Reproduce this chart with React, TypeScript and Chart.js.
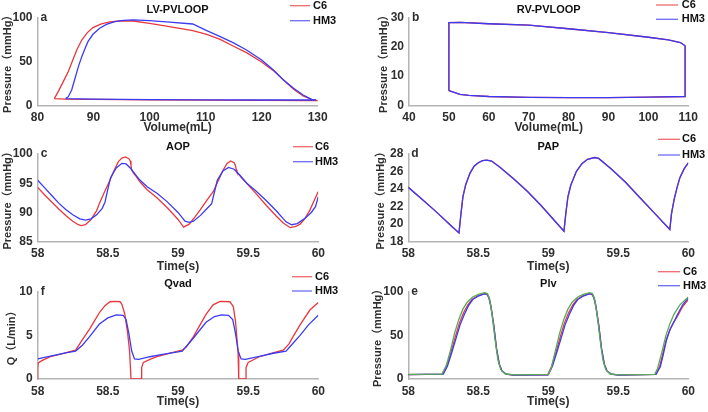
import React, { useEffect, useRef } from "react";
import { Chart, registerables } from "chart.js";
Chart.register(...registerables);

// ---------- data ----------
const seriesNames = ["C6", "HM3"];

// LV pressure-volume loop
const lvC6Volume = [83.0, 83.7, 84.6, 85.5, 86.3, 87.0, 87.9, 88.9, 89.9, 91.4, 92.9, 94.7, 97.1, 100, 103, 107.7, 110.2, 112.6, 114.9, 117.3, 120, 122.1, 123.9, 125.7, 127.4, 128.9, 130, 129.5, 120, 110, 100, 90, 85, 83.0];
const lvC6Pressure = [7.6, 15.5, 26.9, 38.3, 51.5, 62.9, 74.2, 82.6, 88.3, 92.4, 94.7, 95.8, 95.8, 93.2, 90.0, 84.8, 80.7, 75.0, 67.4, 59.8, 49.2, 39.4, 28.8, 18.2, 10.6, 6.8, 5.3, 5.3, 5.6, 5.9, 6.2, 6.7, 7.1, 7.6];
const lvHm3Volume = [85, 85.5, 86.1, 86.7, 87.3, 87.9, 88.5, 89, 89.9, 91.1, 92.3, 93.8, 95.3, 97.1, 100, 103, 107.7, 110.2, 112.6, 114.9, 117.3, 120, 122.1, 123.9, 125.7, 127.4, 128.9, 129.7, 120, 110, 100, 90, 85];
const lvHm3Pressure = [7.6, 9.8, 17.4, 30.7, 44, 55.3, 64.8, 72.3, 80.7, 87.5, 92, 95, 96.6, 97, 96.2, 94.7, 92.4, 84.8, 78, 71.2, 62.9, 51.5, 40, 28.8, 19.3, 11.7, 6.8, 6.0, 6.0, 6.2, 6.5, 7.0, 7.6];

// RV pressure-volume loop
const rvVolume = [50, 50, 52.8, 60, 70, 80, 90, 100, 105, 108, 109.2, 109.2, 100, 90, 80, 70, 60, 55, 52.8, 50];
const rvPressure = [5.0, 28.2, 28.3, 27.8, 27.3, 26.1, 24.8, 23.2, 22.3, 21.4, 20.3, 3.0, 2.8, 2.6, 2.6, 2.7, 3.0, 3.4, 3.75, 5.0];

// AOP
const aopC6Time = [58, 58.05, 58.1, 58.15, 58.2, 58.25, 58.29, 58.31, 58.34, 58.38, 58.42, 58.444, 58.48, 58.515, 58.545, 58.575, 58.6, 58.625, 58.65, 58.66, 58.665, 58.67, 58.68, 58.7, 58.73, 58.78, 58.85, 58.92, 58.97, 59.0, 59.04, 59.08, 59.12, 59.157, 59.2, 59.252, 59.29, 59.323, 59.35, 59.375, 59.4, 59.41, 59.415, 59.42, 59.45, 59.49, 59.55, 59.63, 59.7, 59.75, 59.8, 59.84, 59.87, 59.9, 59.94, 59.97, 60];
const aopC6Value = [94.3, 93.0, 91.8, 90.6, 89.5, 88.5, 87.9, 87.75, 87.9, 88.8, 90.3, 91.8, 93.7, 95.5, 97.2, 98.7, 99.3, 99.5, 99.2, 98.8, 98.0, 97.3, 96.8, 96.2, 95.2, 93.9, 92.5, 90.9, 89.6, 88.8, 87.5, 88.0, 89.2, 90.4, 91.9, 93.6, 95.6, 97.3, 98.4, 98.8, 98.5, 98.0, 97.3, 96.9, 96.0, 95.0, 93.4, 91.2, 89.4, 88.2, 87.4, 87.6, 88.0, 88.8, 90.4, 92.0, 93.6];
const aopHm3Time = [58, 58.05, 58.1, 58.15, 58.2, 58.25, 58.3, 58.34, 58.38, 58.42, 58.46, 58.48, 58.5, 58.52, 58.56, 58.6, 58.63, 58.66, 58.7, 58.73, 58.78, 58.85, 58.92, 59.0, 59.05, 59.08, 59.11, 59.16, 59.2, 59.24, 59.26, 59.28, 59.32, 59.36, 59.4, 59.44, 59.49, 59.55, 59.63, 59.7, 59.77, 59.81, 59.85, 59.9, 59.95, 59.98, 60];
const aopHm3Value = [95.5, 94.2, 92.9, 91.6, 90.5, 89.6, 88.9, 88.7, 88.9, 89.6, 90.7, 91.8, 94.0, 96.0, 97.6, 98.4, 98.3, 97.6, 96.4, 95.5, 94.4, 93.3, 91.9, 90.0, 88.5, 88.3, 88.5, 89.5, 90.5, 91.5, 93.5, 95.5, 97.1, 97.7, 97.4, 96.4, 95.0, 93.8, 92.0, 90.3, 88.4, 87.9, 88.1, 88.9, 90.0, 91.0, 92.7];

// PAP (both devices overlap)
const papTime = [58, 58.1, 58.2, 58.3, 58.362, 58.375, 58.39, 58.41, 58.44, 58.47, 58.5, 58.53, 58.56, 58.595, 58.65, 58.75, 58.85, 58.95, 59.05, 59.112, 59.125, 59.14, 59.16, 59.2, 59.24, 59.28, 59.33, 59.36, 59.45, 59.55, 59.65, 59.75, 59.868, 59.88, 59.9, 59.92, 59.94, 59.97, 60];
const papValue = [24.2, 22.8, 21.4, 19.9, 19.0, 21.0, 23.1, 24.5, 25.8, 26.6, 27.0, 27.25, 27.3, 27.2, 26.55, 25.2, 23.75, 22.1, 20.3, 19.2, 21.2, 23.1, 24.4, 26.0, 26.9, 27.4, 27.6, 27.5, 26.3, 24.8, 23.1, 21.4, 19.4, 21.2, 22.9, 24.2, 25.3, 26.3, 27.0];

// Qvad
const qC6Time = [58, 58.0, 58.004, 58.03, 58.09, 58.15, 58.21, 58.27, 58.325, 58.373, 58.41, 58.444, 58.48, 58.515, 58.55, 58.587, 58.6, 58.62, 58.64, 58.655, 58.665, 58.741, 58.741, 58.753, 58.8, 58.85, 58.93, 59.0, 59.03, 59.06, 59.11, 59.157, 59.2, 59.25, 59.3, 59.37, 59.394, 59.41, 59.428, 59.433, 59.485, 59.485, 59.5, 59.58, 59.67, 59.75, 59.79, 59.82, 59.87, 59.94, 60];
const qC6Value = [0, 1.3, 1.85, 2.1, 2.55, 2.8, 3.05, 3.3, 4.65, 5.8, 6.8, 7.7, 8.4, 8.85, 8.9, 8.85, 8.55, 7.5, 5.4, 3.2, 0, 0, 1.3, 1.9, 2.25, 2.55, 2.9, 3.2, 3.3, 3.7, 4.85, 6.2, 7.4, 8.5, 8.9, 8.85, 8.3, 6.6, 3.1, 0, 0, 1.3, 1.9, 2.55, 2.95, 3.3, 4.0, 4.85, 6.2, 7.9, 8.75];
const qHm3Time = [58, 58.1, 58.2, 58.27, 58.32, 58.37, 58.44, 58.5, 58.56, 58.61, 58.63, 58.65, 58.67, 58.69, 58.72, 58.8, 58.9, 59.0, 59.03, 59.1, 59.2, 59.26, 59.31, 59.36, 59.39, 59.41, 59.43, 59.45, 59.48, 59.58, 59.68, 59.77, 59.82, 59.87, 59.93, 60];
const qHm3Value = [2.3, 2.65, 3.0, 3.2, 3.9, 4.85, 6.3, 7.0, 7.35, 7.3, 6.8, 5.2, 3.2, 2.3, 2.25, 2.55, 2.85, 3.1, 3.2, 4.5, 6.5, 7.15, 7.35, 7.3, 6.8, 5.2, 3.1, 2.3, 2.25, 2.6, 2.95, 3.2, 4.1, 5.0, 6.2, 7.3];

// Plv
const plvC6Time = [58, 58.245, 58.275, 58.305, 58.335, 58.365, 58.395, 58.425, 58.455, 58.5, 58.545, 58.565, 58.578, 58.59, 58.61, 58.63, 58.65, 58.67, 58.7, 58.75, 58.995, 59.025, 59.055, 59.085, 59.115, 59.145, 59.175, 59.205, 59.25, 59.295, 59.315, 59.328, 59.34, 59.36, 59.38, 59.4, 59.42, 59.45, 59.5, 59.765, 59.795, 59.815, 59.84, 59.865, 59.895, 59.92, 59.96, 60];
const plvC6Value = [5.0, 5.5, 15, 31, 48, 64, 76, 85, 91, 95.5, 97.5, 97, 93, 84, 62, 35, 17, 9, 5.5, 4.5, 4.8, 15, 31, 48, 64, 76, 85, 91, 95.5, 97.5, 97, 93, 84, 62, 35, 17, 9, 5.5, 4.5, 5.2, 14, 27, 44, 55, 65, 71, 83, 91];
const plvHm3Time = [58, 58.25, 58.28, 58.31, 58.34, 58.37, 58.4, 58.43, 58.46, 58.5, 58.54, 58.56, 58.575, 58.59, 58.61, 58.63, 58.65, 58.67, 58.7, 58.75, 59.0, 59.03, 59.06, 59.09, 59.12, 59.15, 59.18, 59.21, 59.25, 59.29, 59.31, 59.325, 59.34, 59.36, 59.38, 59.4, 59.42, 59.45, 59.5, 59.77, 59.8, 59.82, 59.845, 59.87, 59.9, 59.92, 59.96, 60];
const plvHm3Value = [5.0, 5.5, 15, 30, 46, 62, 74, 84, 91, 95, 97.5, 97.5, 93, 83, 62, 35, 17, 9, 5.5, 4.5, 4.8, 15, 30, 46, 62, 74, 84, 91, 95, 97.5, 97.5, 93, 83, 62, 35, 17, 9, 5.5, 4.5, 5.2, 14, 27, 45, 57, 66, 73, 85, 93];
const plvRefTime = [58, 58.24, 58.27, 58.3, 58.33, 58.36, 58.39, 58.42, 58.46, 58.5, 58.545, 58.565, 58.58, 58.6, 58.62, 58.64, 58.66, 58.69, 58.75, 59.0, 59.02, 59.05, 59.08, 59.11, 59.14, 59.17, 59.21, 59.25, 59.295, 59.315, 59.33, 59.35, 59.37, 59.39, 59.41, 59.44, 59.5, 59.76, 59.78, 59.81, 59.84, 59.87, 59.9, 59.94, 60];
const plvRefValue = [5.3, 5.6, 15, 32, 52, 68, 80, 88, 94, 97, 99, 98, 92, 72, 45, 22, 11, 6, 4.8, 5.3, 12, 32, 52, 68, 80, 88, 94, 97, 99, 98, 92, 72, 45, 22, 11, 6, 4.8, 5.3, 12, 30, 50, 64, 75, 85, 94];

// ---------- styles ----------
const RED = "#e8383d";
const BLUE = "#3b3bf2";
const GREEN = "#5aaa5a";
const FONT = "'Liberation Sans', Arial, 'Noto Sans CJK SC', sans-serif";
const TICK_SIZE = 12;
const AXIS_TITLE_SIZE = 12;
const TITLE_SIZE = 11;
const LEGEND_SIZE = 11;
const AXIS_COLOR = "#b4b4b4";
const TEXT_COLOR = "#2e2e2e";

type Series = { label?: string; x: number[]; y: number[]; color: string };
type PanelCfg = {
  box: { x: number; y: number; w: number; h: number };
  area: { l: number; t: number; r: number; b: number };
  yTitleX: number;
  xTitleY: number;
  titleY: number;
  title: string;
  letter: string;
  xTitle: string;
  yTitle: string;
  xRange: [number, number, number];
  yRange: [number, number, number];
  legend: { x1: number; x2: number; y: number[]; tx: number };
  series: Series[];
};

const P_LABEL = "Pressure\uFF08mmHg\uFF09";

const panels: PanelCfg[] = [
  {
    box: { x: 0, y: 0, w: 354, h: 137 },
    area: { l: 37.5, t: 17.3, r: 317.7, b: 105.3 },
    yTitleX: 8.3, xTitleY: 128, titleY: 10,
    title: "LV-PVLOOP", letter: "a", xTitle: "Volume(mL)", yTitle: P_LABEL,
    xRange: [80, 130, 10], yRange: [0, 100, 50],
    legend: { x1: 290, x2: 310, y: [5.7, 20.7], tx: 313 },
    series: [
      { label: seriesNames[0], x: lvC6Volume, y: lvC6Pressure, color: RED },
      { label: seriesNames[1], x: lvHm3Volume, y: lvHm3Pressure, color: BLUE },
    ],
  },
  {
    box: { x: 354, y: 0, w: 354, h: 137 },
    area: { l: 409, t: 17.3, r: 688.3, b: 105.3 },
    yTitleX: 385, xTitleY: 128, titleY: 10,
    title: "RV-PVLOOP", letter: "b", xTitle: "Volume(mL)", yTitle: P_LABEL,
    xRange: [40, 110, 10], yRange: [0, 30, 10],
    legend: { x1: 656, x2: 678, y: [5, 19.3], tx: 681.7 },
    series: [
      { label: seriesNames[0], x: rvVolume, y: rvPressure, color: RED },
      { label: seriesNames[1], x: rvVolume, y: rvPressure, color: BLUE },
    ],
  },
  {
    box: { x: 0, y: 132, w: 354, h: 142 },
    area: { l: 37.7, t: 154, r: 318.3, b: 241.7 },
    yTitleX: 8.3, xTitleY: 266.7, titleY: 146.7,
    title: "AOP", letter: "c", xTitle: "Time(s)", yTitle: P_LABEL,
    xRange: [58, 60, 0.5], yRange: [85, 100, 5],
    legend: { x1: 293, x2: 313, y: [146.7, 161.7], tx: 315 },
    series: [
      { label: seriesNames[0], x: aopC6Time, y: aopC6Value, color: RED },
      { label: seriesNames[1], x: aopHm3Time, y: aopHm3Value, color: BLUE },
    ],
  },
  {
    box: { x: 354, y: 132, w: 354, h: 142 },
    area: { l: 408.3, t: 154, r: 688.3, b: 241.7 },
    yTitleX: 381.7, xTitleY: 266.7, titleY: 146.7,
    title: "PAP", letter: "d", xTitle: "Time(s)", yTitle: P_LABEL,
    xRange: [58, 60, 0.5], yRange: [18, 28, 2],
    legend: { x1: 658, x2: 680, y: [139.3, 155], tx: 682 },
    series: [
      { label: seriesNames[0], x: papTime, y: papValue, color: RED },
      { label: seriesNames[1], x: papTime, y: papValue, color: BLUE },
    ],
  },
  {
    box: { x: 0, y: 262, w: 354, h: 150 },
    area: { l: 37.7, t: 291.7, r: 318.3, b: 379 },
    yTitleX: 12.3, xTitleY: 401.7, titleY: 284,
    title: "Qvad", letter: "f", xTitle: "Time(s)", yTitle: "Q\uFF08L/min\uFF09",
    xRange: [58, 60, 0.5], yRange: [0, 10, 5],
    legend: { x1: 292, x2: 312, y: [276.7, 291], tx: 315 },
    series: [
      { label: seriesNames[0], x: qC6Time, y: qC6Value, color: RED },
      { label: seriesNames[1], x: qHm3Time, y: qHm3Value, color: BLUE },
    ],
  },
  {
    box: { x: 354, y: 262, w: 354, h: 150 },
    area: { l: 408.3, t: 291.7, r: 688.3, b: 379 },
    yTitleX: 378.3, xTitleY: 401.7, titleY: 284,
    title: "Plv", letter: "e", xTitle: "Time(s)", yTitle: P_LABEL,
    xRange: [58, 60, 0.5], yRange: [0, 100, 50],
    legend: { x1: 658, x2: 680, y: [271.7, 285.7], tx: 683 },
    series: [
      { label: seriesNames[0], x: plvC6Time, y: plvC6Value, color: RED },
      { label: seriesNames[1], x: plvHm3Time, y: plvHm3Value, color: BLUE },
      { x: plvRefTime, y: plvRefValue, color: GREEN },
    ],
  },
];

const fmt = (v: number) => String(Math.round(v * 100) / 100);

function Panel({ cfg }: { cfg: PanelCfg }) {
  const ref = useRef<HTMLCanvasElement>(null);
  useEffect(() => {
    const c = cfg;
    const half = AXIS_TITLE_SIZE * 0.6;
    const yScaleLeft = c.yTitleX - half - c.box.x;
    const yWidth = c.area.l - c.box.x - yScaleLeft;
    const xHeight = c.xTitleY - c.area.b + half;
    const overlay = {
      id: "overlay" + c.letter,
      afterDraw(chart: any) {
        const ctx = chart.ctx as CanvasRenderingContext2D;
        const ca = chart.chartArea;
        ctx.save();
        ctx.textBaseline = "middle";
        ctx.fillStyle = "#111";
        ctx.font = `bold ${TITLE_SIZE}px ${FONT}`;
        ctx.textAlign = "center";
        ctx.fillText(c.title, (ca.left + ca.right) / 2, c.titleY - c.box.y);
        ctx.font = `bold ${TICK_SIZE}px ${FONT}`;
        ctx.textAlign = "left";
        ctx.fillStyle = TEXT_COLOR;
        ctx.fillText(c.letter, ca.left + 3, ca.top);
        ctx.font = `bold ${LEGEND_SIZE}px ${FONT}`;
        c.series
          .filter((s) => s.label)
          .forEach((s, i) => {
            const y = c.legend.y[i] - c.box.y;
            ctx.strokeStyle = s.color;
            ctx.globalAlpha = 0.75;
            ctx.lineWidth = 1.3;
            ctx.beginPath();
            ctx.moveTo(c.legend.x1 - c.box.x, y);
            ctx.lineTo(c.legend.x2 - c.box.x, y);
            ctx.stroke();
            ctx.globalAlpha = 1;
            ctx.fillStyle = "#111";
            ctx.fillText(s.label as string, c.legend.tx - c.box.x, y);
          });
        ctx.restore();
      },
    };
    const n = c.series.length;
    const chart = new Chart(ref.current as HTMLCanvasElement, {
      type: "scatter",
      data: {
        datasets: c.series.map((s, i) => ({
          label: s.label ?? "",
          data: s.x.map((x, k) => ({ x, y: s.y[k] })),
          order: n - i,
          showLine: true,
          borderColor: s.color,
          backgroundColor: s.color,
          borderWidth: 1.3,
          pointRadius: 0,
          pointHoverRadius: 0,
          tension: 0,
          fill: false,
        })),
      },
      options: {
        responsive: false,
        animation: false,
        devicePixelRatio: 1,
        events: [],
        layout: {
          padding: {
            left: yScaleLeft,
            top: c.area.t - c.box.y,
            right: c.box.x + c.box.w - c.area.r,
            bottom: c.box.y + c.box.h - c.area.b - xHeight,
          },
        },
        plugins: { legend: { display: false }, tooltip: { enabled: false }, title: { display: false } },
        scales: {
          x: {
            type: "linear",
            min: c.xRange[0],
            max: c.xRange[1],
            afterFit: (s: any) => { s.height = xHeight; },
            grid: { display: false, drawTicks: false },
            border: { display: true, color: AXIS_COLOR, width: 1.5 },
            ticks: {
              stepSize: c.xRange[2],
              autoSkip: false,
              maxRotation: 0,
              padding: 5,
              color: TEXT_COLOR,
              font: { family: FONT, size: TICK_SIZE, weight: "bold" },
              callback: (v: any) => fmt(Number(v)),
            },
            title: {
              display: true,
              text: c.xTitle,
              color: TEXT_COLOR,
              padding: 0,
              font: { family: FONT, size: AXIS_TITLE_SIZE, weight: "bold" },
            },
          },
          y: {
            type: "linear",
            min: c.yRange[0],
            max: c.yRange[1],
            afterFit: (s: any) => { s.width = yWidth; },
            grid: { display: false, drawTicks: false },
            border: { display: true, color: AXIS_COLOR, width: 1.5 },
            ticks: {
              stepSize: c.yRange[2],
              padding: 5,
              color: TEXT_COLOR,
              font: { family: FONT, size: TICK_SIZE, weight: "bold" },
              callback: (v: any) => fmt(Number(v)),
            },
            title: {
              display: true,
              text: c.yTitle,
              color: TEXT_COLOR,
              padding: 0,
              font: { family: FONT, size: AXIS_TITLE_SIZE - 1, weight: "bold" },
            },
          },
        },
      },
      plugins: [overlay],
    } as any);
    return () => chart.destroy();
  }, [cfg]);
  return (
    <canvas
      ref={ref}
      width={cfg.box.w}
      height={cfg.box.h}
      style={{ position: "absolute", left: cfg.box.x, top: cfg.box.y, width: cfg.box.w, height: cfg.box.h }}
    />
  );
}

export default function App() {
  return (
    <div style={{ position: "fixed", left: 0, top: 0, width: 708, height: 412, background: "#fff", overflow: "hidden" }}>
      {panels.map((p) => (
        <Panel key={p.letter} cfg={p} />
      ))}
    </div>
  );
}
